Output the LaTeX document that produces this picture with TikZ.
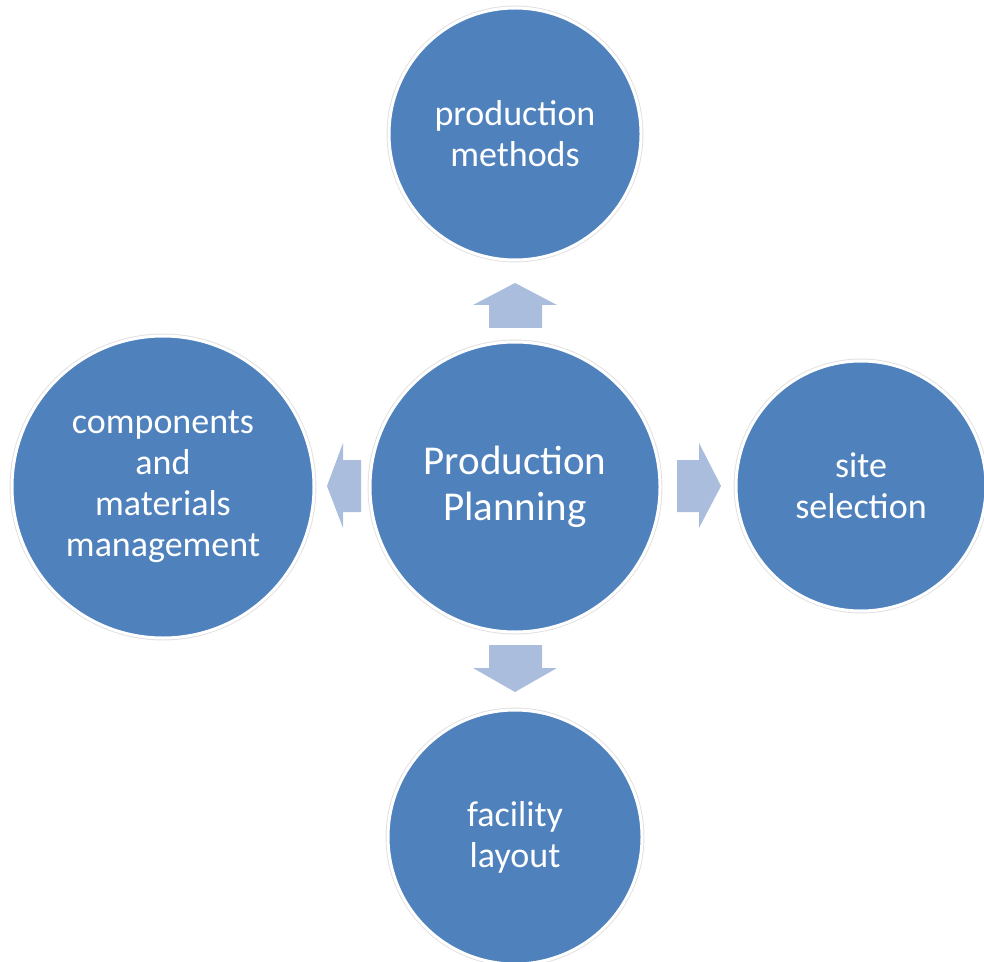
\documentclass[tikz,border=0pt]{standalone}
\usepackage{fontspec}
\setmainfont{Carlito}
\definecolor{bubbleblue}{HTML}{4F81BD}
\definecolor{arrowblue}{HTML}{AABDDC}

\begin{document}
\begin{tikzpicture}[x=0.5pt,y=-0.5pt]
\tikzstyle{bubble}=[circle, fill=bubbleblue, draw=white, line width=1.5pt, preaction={draw=black!12, line width=2.4pt}, text=white, align=center, inner sep=0pt, font=\fontsize{18}{20.5}\selectfont]
\tikzstyle{blockarrow}=[fill=arrowblue]
\useasboundingbox (0,0) rectangle (984,962);

% central topic
\node[bubble, minimum size=145pt, font=\fontsize{20.5}{23}\selectfont] (planning) at (515,487) {Production\\Planning};

% surrounding topics
\node[bubble, minimum size=126pt] (methods) at (515,134) {production\\methods};
\node[bubble, minimum size=151pt] (materials) at (163,487) {components\\and\\materials\\management};
\node[bubble, minimum size=125pt] (site) at (861,486) {site\\selection};
\node[bubble, minimum size=127pt] (layout) at (515,837) {facility\\layout};

% block arrows between the circles
\fill[blockarrow] (489,328) -- (489,305) -- (473,305) -- (515,283) -- (557,305) -- (542,305) -- (542,328) -- cycle;
\fill[blockarrow] (489,645) -- (542,645) -- (542,668) -- (557,668) -- (515,692) -- (473,668) -- (489,668) -- cycle;
\fill[blockarrow] (361,460) -- (343,460) -- (343,443) -- (327,486) -- (343,528) -- (343,512) -- (361,512) -- cycle;
\fill[blockarrow] (677,460) -- (699,460) -- (699,443) -- (721,486) -- (699,528) -- (699,512) -- (677,512) -- cycle;

\end{tikzpicture}
\end{document}
